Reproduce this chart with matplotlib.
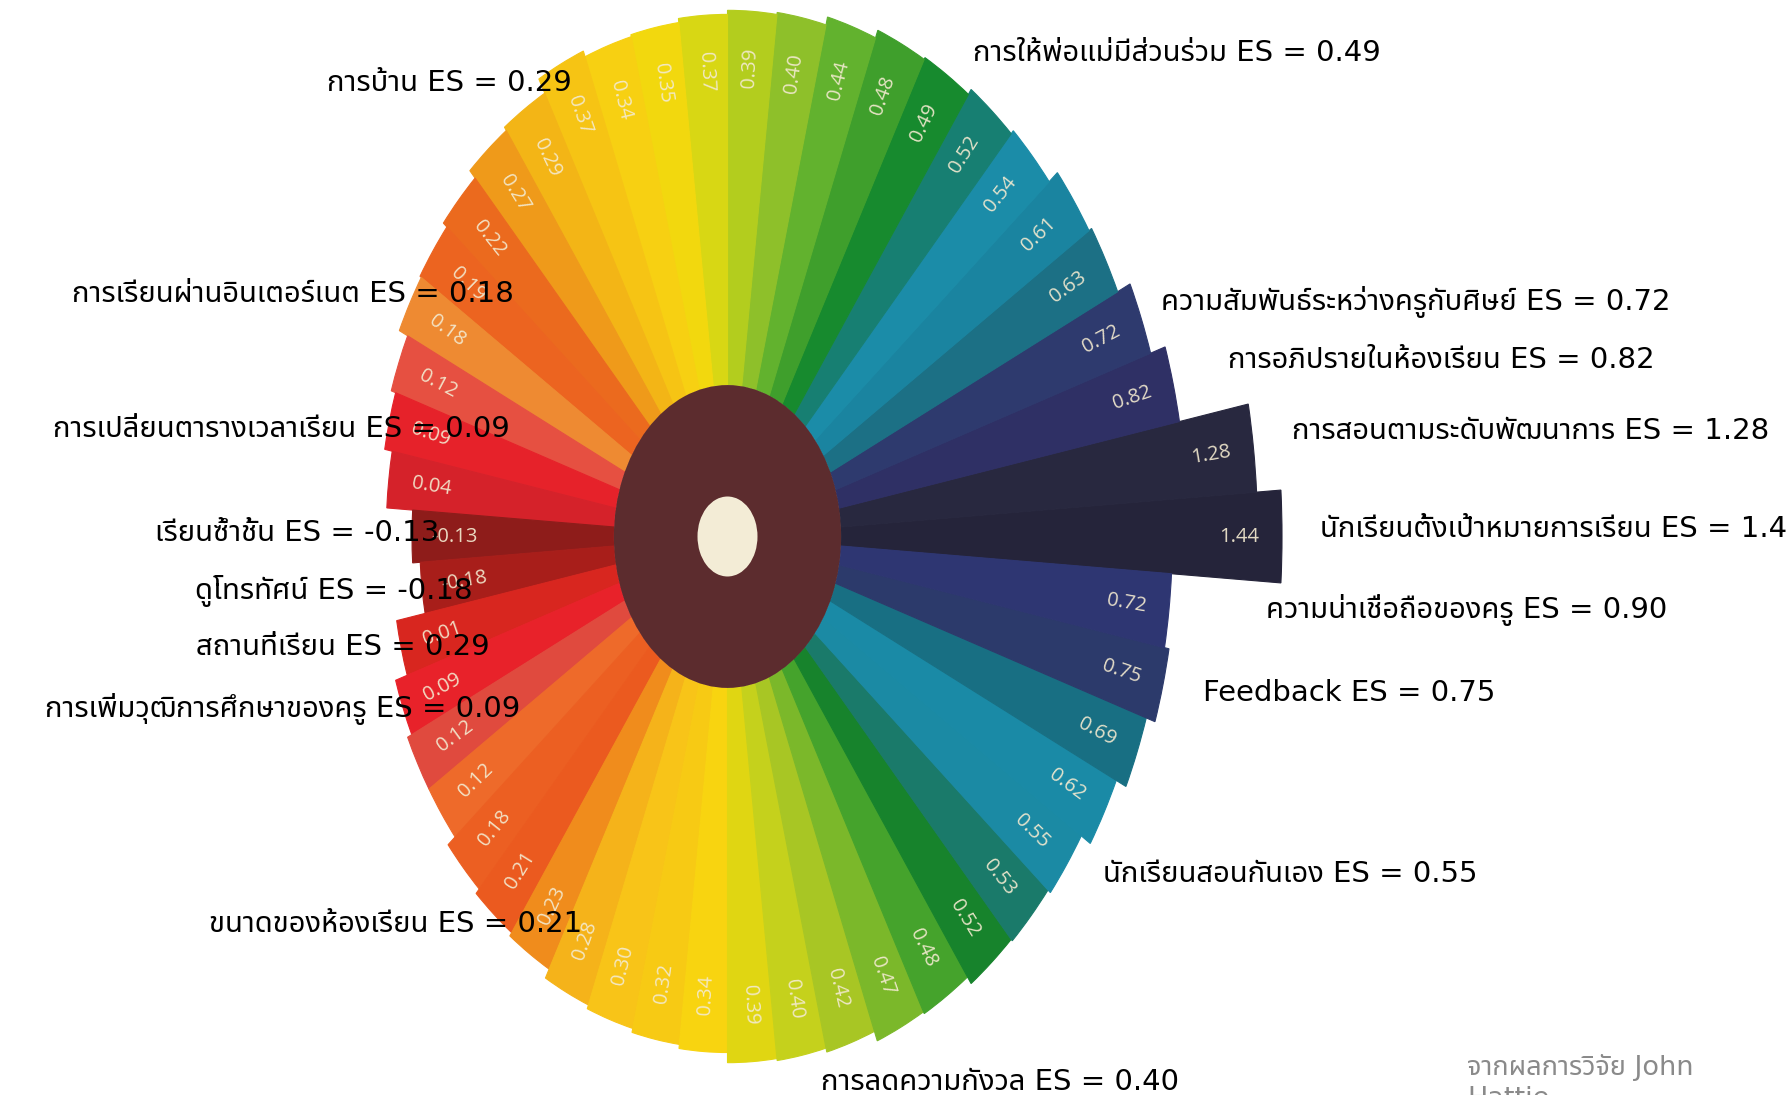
import numpy as np
import matplotlib
matplotlib.use("Agg")
import matplotlib.pyplot as plt
from matplotlib import font_manager as fm
from matplotlib.ft2font import FT2Font

# ---------------- data ----------------
# effect sizes, counter-clockwise starting at 3 o'clock
wedge_values = [1.44, 1.28, 0.82, 0.72, 0.63, 0.61, 0.54, 0.52, 0.49, 0.48,
                0.44, 0.40, 0.39, 0.37, 0.35, 0.34, 0.37, 0.29, 0.27, 0.22,
                0.19, 0.18, 0.12, 0.09, 0.04, -0.13, -0.18, 0.01, 0.09, 0.12,
                0.12, 0.18, 0.21, 0.23, 0.28, 0.30, 0.32, 0.34, 0.39, 0.40,
                0.42, 0.47, 0.48, 0.52, 0.53, 0.55, 0.62, 0.69, 0.75, 0.72]

wedge_colors = ["#25243a", "#28283f", "#2f3065", "#2e3a6e", "#1c7085", "#1a84a0",
                "#1b8ca8", "#177f72", "#178a2e", "#3f9f2c", "#62b22e", "#8ec02a",
                "#b3cd1e", "#d8d714", "#f2d80e", "#f7d012", "#f6c414", "#f3b516",
                "#ef9a1a", "#eb6a1e", "#ec6420", "#ee8a32", "#e65041", "#e6222a",
                "#d5222a", "#8e1c1a", "#a81e1a", "#d8261f", "#e8222a", "#e04a3e",
                "#ee6a2a", "#ec5f22", "#eb5a1f", "#f08c1c", "#f5b31a", "#f8c418",
                "#f7ca14", "#f8d410", "#e0d612", "#c5d11c", "#a8c624", "#7bb82a",
                "#45a32c", "#17832c", "#1a7a6a", "#1b8aa4", "#1a8aa6", "#186f83",
                "#2c3a6b", "#2e3672"]

# annotations: name, ES
ann_names = ["การบ้าน", "การให้พ่อแม่มีส่วนร่วม", "การเรียนผ่านอินเตอร์เนต",
             "ความสัมพันธ์ระหว่างครูกับศิษย์", "การอภิปรายในห้องเรียน",
             "การเปลี่ยนตารางเวลาเรียน", "การสอนตามระดับพัฒนาการ", "เรียนซ้ำชั้น",
             "นักเรียนตั้งเป้าหมายการเรียน", "ดูโทรทัศน์", "ความน่าเชื่อถือของครู",
             "สถานที่เรียน", "การเพิ่มวุฒิการศึกษาของครู", "Feedback",
             "นักเรียนสอนกันเอง", "ขนาดของห้องเรียน", "การลดความกังวล"]
ann_es = [0.29, 0.49, 0.18, 0.72, 0.82, 0.09, 1.28, -0.13, 1.44, -0.18, 0.90,
          0.29, 0.09, 0.75, 0.55, 0.21, 0.40]
# anchor x (px), baseline y (px from top), horizontal alignment
ann_x = [572, 973, 514, 1161, 1228, 510, 1292, 439, 1320, 473, 1266, 490, 520,
         1203, 1103, 582, 821]
ann_y = [91, 61, 302, 310, 368, 437, 439, 541, 537, 599, 618, 655, 717, 701,
         882, 932, 1090]
ann_ha = ["right", "left", "right", "left", "left", "right", "left", "right",
          "left", "right", "left", "right", "right", "left", "left", "right",
          "left"]
credit_text = "จากผลการวิจัย John\nHattie"

# ---------------- fonts ----------------
def thai_families():
    found = []
    for f in fm.fontManager.ttflist:
        try:
            cm = FT2Font(f.fname).get_charmap()
        except Exception:
            continue
        if 0x0E01 in cm and 0x0E32 in cm and f.name not in found:
            found.append(f.name)
    pref = ["Tahoma", "Noto Sans Thai", "Noto Sans Thai UI", "Loma", "Garuda",
            "Sarabun", "Leelawadee UI", "Norasi", "Waree", "Umpush", "Kinnari"]
    found.sort(key=lambda n: pref.index(n) if n in pref else len(pref))
    return found

thai = thai_families()
txt_family = ["DejaVu Sans"] + thai[:1]

W_PX, H_PX = 1788, 1095
fig = plt.figure(figsize=(W_PX / 100, H_PX / 100), dpi=100)
fig.patch.set_facecolor("white")

# polar axes stretched into an ellipse
cx, cy = 727.5, 536.5          # centre, px from top-left
r_min, r_max = -2.202, 1.6      # radial scale (origin at r_min)
px_per_unit = 203.0
k = 0.75                        # horizontal squeeze
H = (r_max - r_min) * px_per_unit
Wd = k * H
ax = fig.add_axes([(cx - Wd) / W_PX, (H_PX - cy - H) / H_PX,
                   2 * Wd / W_PX, 2 * H / H_PX], projection="polar")
ax.set_aspect("auto")
ax.set_ylim(r_min, r_max)
ax.axis("off")

hub = -1.456
cream = -2.005
n = len(wedge_values)
width = 2 * np.pi / n
theta = np.arange(n) * width
vals = np.array(wedge_values)

ax.bar(theta, vals - hub, bottom=hub, width=width, color=wedge_colors,
       edgecolor=wedge_colors, linewidth=0.8, align="center", zorder=2)
ax.bar(0, hub - r_min, bottom=r_min, width=2 * np.pi, color="#5c2c2e",
       edgecolor="none", zorder=3)
ax.bar(0, cream - r_min, bottom=r_min, width=2 * np.pi, color="#f3ecd6",
       edgecolor="none", zorder=4)

for th, v in zip(theta, vals):
    phi = np.degrees(np.arctan2(np.sin(th), k * np.cos(th)))
    if phi > 90:
        phi -= 180
    elif phi < -90:
        phi += 180
    ax.text(th, v - 0.28, f"{v:.2f}", rotation=phi, rotation_mode="anchor",
            ha="center", va="center", fontsize=14.5, color="#f3ead0", alpha=0.92,
            family=["Open Sans", "DejaVu Sans"], zorder=5)

for name, es, x, y, ha in zip(ann_names, ann_es, ann_x, ann_y, ann_ha):
    fig.text(x / W_PX, 1 - y / H_PX, f"{name} ES = {es:.2f}", ha=ha,
             va="baseline", fontsize=21, color="black", family=txt_family,
             zorder=10)

fig.text(1467 / W_PX, 1 - 1054 / H_PX, credit_text, ha="left", va="top",
         fontsize=19.5, color="#8a8a8a", family=txt_family, linespacing=1.25)

fig.savefig("out.png", dpi=100, facecolor="white")
